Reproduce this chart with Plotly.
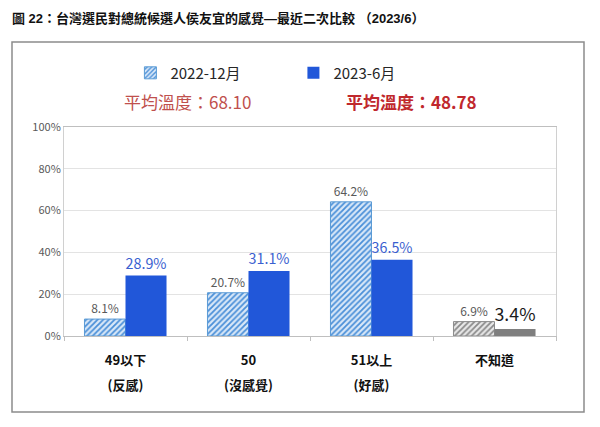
import plotly.graph_objects as go

categories = ["49以下", "50", "51以上", "不知道"]
sub_labels = ["(反感)", "(沒感覺)", "(好感)", ""]
series_names = ["2022-12月", "2023-6月"]
v2022 = [8.1, 20.7, 64.2, 6.9]
v2023 = [28.9, 31.1, 36.5, 3.4]
avg_texts = ["平均溫度：68.10", "平均溫度：48.78"]
y_ticks = [0, 20, 40, 60, 80, 100]
y_ticklabels = ["0%", "20%", "40%", "60%", "80%", "100%"]
title_text = "圖 22：台灣選民對總統候選人侯友宜的感覺—最近二次比較 （2023/6）"

CJK = "Noto Sans CJK TC, Noto Sans, sans-serif"

ticktext = []
for c, s in zip(categories, sub_labels):
    t = f"<span style='font-size:13px'><b>{c}</b></span>"
    if s:
        t += f"<br><span style='font-size:13px'><b>{s}</b></span>"
    ticktext.append(t)

W, H = 592, 419
L, R, T, B = 56, 44, 119, 91

fig = go.Figure()
# 2022: the three temperature groups (blue hatch) and 不知道 (grey hatch) share one slot
fig.add_trace(go.Bar(
    x=categories[:3], y=v2022[:3], name=series_names[0], offsetgroup="a", legendgroup="a",
    marker=dict(
        color="#d2e4f7",
        line=dict(color="#5b9bd5", width=1),
        pattern=dict(shape="/", fgcolor="#4a8fd8", bgcolor="#d9e8f8",
                     size=4, solidity=0.45, fillmode="replace"),
    ),
    text=[f"{v}%" for v in v2022[:3]], textposition="outside",
    textfont=dict(family=CJK, size=12, color="#595959"),
    cliponaxis=False,
))
fig.add_trace(go.Bar(
    x=categories[3:], y=v2022[3:], name=series_names[0], offsetgroup="a", legendgroup="a",
    showlegend=False,
    marker=dict(
        color="#e4e4e4",
        line=dict(color="#8c8c8c", width=1),
        pattern=dict(shape="/", fgcolor="#8a8a8a", bgcolor="#e8e8e8",
                     size=4, solidity=0.45, fillmode="replace"),
    ),
    text=[f"{v}%" for v in v2022[3:]], textposition="outside",
    textfont=dict(family=CJK, size=12, color="#595959"),
    cliponaxis=False,
))
fig.add_trace(go.Bar(
    x=categories, y=v2023, name=series_names[1], offsetgroup="b",
    marker=dict(color=["#2157d9", "#2157d9", "#2157d9", "#7f7f7f"], line=dict(width=0)),
    text=[f"{v}%" for v in v2023], textposition="outside",
    textfont=dict(family=CJK, size=18, color=["#3a5fd0", "#3a5fd0", "#3a5fd0", "#1a1a1a"]),
    cliponaxis=False,
))

fig.update_layout(
    width=W, height=H,
    margin=dict(l=L, r=R, t=T, b=B, autoexpand=False),
    paper_bgcolor="white", plot_bgcolor="white",
    barmode="group", bargap=0.333, bargroupgap=0,
    font=dict(family=CJK, color="#262626"),
    title=dict(text=f"<b>{title_text}</b>", x=4 / W, xanchor="left", y=1 - 10 / H,
               yanchor="middle", font=dict(family="Liberation Sans, " + CJK, size=13, color="#111")),
    legend=dict(orientation="h", x=0.135, xanchor="left", y=1.258, yanchor="middle",
                font=dict(size=15, color="#262626"), entrywidth=118, entrywidthmode="pixels",
                itemwidth=30, bgcolor="rgba(0,0,0,0)"),
    showlegend=True,
)
fig.update_yaxes(range=[0, 100], tickvals=y_ticks, ticktext=y_ticklabels,
                 tickfont=dict(size=11, color="#595959"),
                 showgrid=True, gridcolor="#e3e3e3", gridwidth=1,
                 showline=True, linecolor="#d0d0d0", mirror=True, zeroline=False,
                 ticks="", ticklen=0)
fig.update_xaxes(type="category", categoryorder="array", categoryarray=categories,
                 tickvals=categories, ticktext=ticktext, tickfont=dict(size=19, color="#111"),
                 showline=True, linecolor="#bfbfbf", mirror=True,
                 ticks="outside", tickson="boundaries", ticklen=4, tickcolor="#bfbfbf",
                 ticklabelstandoff=5)

# average temperature annotations
fig.add_annotation(x=0.252, y=1.12, xref="paper", yref="paper", text=avg_texts[0],
                   xanchor="center", yanchor="middle",
                   showarrow=False, font=dict(size=17, color="#c0504d"))
fig.add_annotation(x=0.707, y=1.12, xref="paper", yref="paper", text=f"<b>{avg_texts[1]}</b>",
                   xanchor="center", yanchor="middle",
                   showarrow=False, font=dict(size=17, color="#c0282d"))

# outer frame
pw, ph = W - L - R, H - T - B
fig.add_shape(type="rect", xref="paper", yref="paper",
              x0=(4 - L) / pw, x1=(576 - L) / pw,
              y0=-(404 - (H - B)) / ph, y1=((H - B) - 34) / ph,
              line=dict(color="#8c8c8c", width=1.5), fillcolor="rgba(0,0,0,0)", layer="below")

fig.write_html("out.html")
